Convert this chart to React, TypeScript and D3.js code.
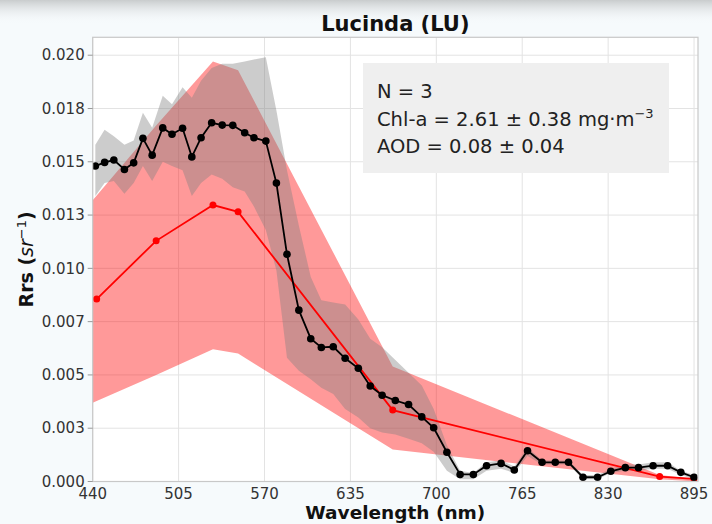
import React from "react";
import * as d3 from "d3";

// ---------- data ----------
const blackWl = [442, 449, 456, 464, 471, 478, 485, 493, 500, 508, 515, 522, 530, 538, 546, 555, 562, 571, 579, 587, 596, 605, 613, 622, 631, 641, 650, 659, 669, 679, 689, 698, 708, 718, 728, 738, 749, 759, 769, 780, 790, 800, 811, 822, 832, 843, 853, 864, 875, 885, 895];
const blackMean = [0.0148, 0.01497, 0.01508, 0.01464, 0.01495, 0.0161, 0.01531, 0.01659, 0.01629, 0.01657, 0.01523, 0.01613, 0.01683, 0.01672, 0.01671, 0.01636, 0.01613, 0.01597, 0.014, 0.01066, 0.00804, 0.0067, 0.00629, 0.00632, 0.00578, 0.00531, 0.00448, 0.00405, 0.0038, 0.00361, 0.00303, 0.00252, 0.00137, 0.00033, 0.00033, 0.00074, 0.00085, 0.00054, 0.00144, 0.0009, 0.0009, 0.0009, 0.0002, 0.0002, 0.00048, 0.00065, 0.00065, 0.00074, 0.00074, 0.00043, 0.0002];
const blackUpper = [0.0158, 0.0165, 0.0162, 0.0158, 0.016, 0.0173, 0.0166, 0.0181, 0.0177, 0.0185, 0.018, 0.0188, 0.0194, 0.0196, 0.0196, 0.0197, 0.0198, 0.0199, 0.0174, 0.0146, 0.012, 0.0096, 0.0085, 0.0084, 0.0083, 0.0076, 0.0067, 0.0063, 0.0057, 0.0051, 0.0045, 0.0034, 0.0017, 0.0005, 0.0004, 0.0009, 0.001, 0.0007, 0.0016, 0.001, 0.001, 0.001, 0.0003, 0.0003, 0.0006, 0.0008, 0.0008, 0.0009, 0.0009, 0.0005, 0.0003];
const blackLower = [0.0134, 0.014, 0.0141, 0.0135, 0.014, 0.0148, 0.0141, 0.015, 0.0148, 0.0146, 0.0134, 0.014, 0.0144, 0.0142, 0.0138, 0.0136, 0.0129, 0.0118, 0.0099, 0.0058, 0.0052, 0.0048, 0.0044, 0.0041, 0.0034, 0.003, 0.0025, 0.0023, 0.0022, 0.002, 0.0018, 0.0014, 0.0005, 0.0001, 0.0001, 0.0005, 0.0006, 0.0004, 0.0012, 0.0008, 0.0008, 0.0008, 0.0001, 0.0001, 0.0004, 0.0005, 0.0005, 0.0006, 0.0006, 0.0003, 0.0001];

const redWl = [443, 488, 531, 550, 667, 869, 895];
const redMean = [0.00856, 0.01129, 0.01297, 0.01265, 0.00335, 0.00023, 0.00012];
const redBandWl = [440, 488, 531, 550, 667, 869, 897];
const redUpper = [0.0132, 0.0167, 0.0197, 0.0193, 0.0054, 0.0003, 0.0001];
const redLower = [0.0037, 0.005, 0.0062, 0.006, 0.0015, 0.0001, 0.0];

const xTicks = [440, 505, 570, 635, 700, 765, 830, 895];
const yTicks = [0, 0.0025, 0.005, 0.0075, 0.01, 0.0125, 0.015, 0.0175, 0.02];
const yTickLabels = ["0.000", "0.003", "0.005", "0.007", "0.010", "0.013", "0.015", "0.018", "0.020"];

const W = 712, H = 524;
const L = 92.7, R = 698, T = 37.3, B = 481.5;

export default function App() {
  const x = d3.scaleLinear().domain([440, 898]).range([L, R]);
  const y = d3.scaleLinear().domain([0, 0.02084]).range([B, T]);

  const redBand = d3.area<number>()
    .x((_, i) => x(redBandWl[i]))
    .y0((_, i) => y(redLower[i]))
    .y1((_, i) => y(redUpper[i]))(redBandWl);
  const grayBand = d3.area<number>()
    .x((_, i) => x(blackWl[i]))
    .y0((_, i) => y(blackLower[i]))
    .y1((_, i) => y(blackUpper[i]))(blackWl);
  const redLine = d3.line<number>()
    .x((_, i) => x(redWl[i]))
    .y((_, i) => y(redMean[i]))(redWl);
  const blackLine = d3.line<number>()
    .x((_, i) => x(blackWl[i]))
    .y((_, i) => y(blackMean[i]))(blackWl);

  const tickFont = "'DejaVu Sans', sans-serif";
  return (
    <svg width={W} height={H} style={{ position: "absolute", left: 0, top: 0 }}>
      <defs>
        <linearGradient id="topfade" x1="0" y1="0" x2="0" y2="1">
          <stop offset="0" stopColor="#c9cccd" />
          <stop offset="1" stopColor="#f6fafc" stopOpacity="0" />
        </linearGradient>
        <clipPath id="plotclip">
          <rect x={L} y={T} width={R - L} height={B - T} />
        </clipPath>
      </defs>
      <rect x={0} y={0} width={W} height={H} fill="#f6fafc" />
      <rect x={0} y={0} width={W} height={24} fill="url(#topfade)" />
      <rect x={L} y={T} width={R - L} height={B - T} fill="#ffffff" />
      {/* grid */}
      {xTicks.map((t) => (
        <line key={"gx" + t} x1={x(t)} x2={x(t)} y1={T} y2={B} stroke="#e3e3e3" strokeWidth={1} />
      ))}
      {yTicks.map((t) => (
        <line key={"gy" + t} x1={L} x2={R} y1={y(t)} y2={y(t)} stroke="#e3e3e3" strokeWidth={1} />
      ))}
      <g clipPath="url(#plotclip)">
        <path d={redBand || ""} fill="red" fillOpacity={0.4} />
        <path d={grayBand || ""} fill="gray" fillOpacity={0.4} />
        <path d={redLine || ""} fill="none" stroke="#ff0000" strokeWidth={1.8} />
        {redWl.map((w, i) => (
          <circle key={"r" + i} cx={x(w)} cy={y(redMean[i])} r={3.5} fill="#ff0000" />
        ))}
        <path d={blackLine || ""} fill="none" stroke="#000" strokeWidth={1.8} />
        {blackWl.map((w, i) => (
          <circle key={"b" + i} cx={x(w)} cy={y(blackMean[i])} r={3.8} fill="#000" />
        ))}
      </g>
      {/* frame */}
      <rect x={L} y={T} width={R - L} height={B - T} fill="none" stroke="#c8c8c8" strokeWidth={1.2} />
      {/* ticks */}
      {yTicks.map((t, i) => (
        <g key={"yt" + t}>
          <line x1={L - 5} x2={L} y1={y(t)} y2={y(t)} stroke="#999" strokeWidth={1} />
          <text x={L - 8} y={y(t)} dy="0.35em" textAnchor="end" fontFamily={tickFont} fontSize={15} fill="#333">
            {yTickLabels[i]}
          </text>
        </g>
      ))}
      {xTicks.map((t) => (
        <text key={"xt" + t} x={x(t)} y={499} textAnchor="middle" fontFamily={tickFont} fontSize={15} fill="#333">
          {t}
        </text>
      ))}
      {/* title & labels */}
      <text x={(L + R) / 2} y={31} textAnchor="middle" fontFamily={tickFont} fontWeight="bold" fontSize={21} fill="#111">
        Lucinda (LU)
      </text>
      <text x={(L + R) / 2} y={519} textAnchor="middle" fontFamily={tickFont} fontWeight="bold" fontSize={18.5} fill="#111">
        Wavelength (nm)
      </text>
      <text transform={`translate(33,${(T + B) / 2}) rotate(-90)`} textAnchor="middle" fontFamily={tickFont} fontSize={19} fill="#111">
        <tspan fontWeight="bold">Rrs (</tspan>
        <tspan fontStyle="italic">sr</tspan>
        <tspan fontSize={13} dy={-7}>−1</tspan>
        <tspan dy={7} fontWeight="bold">)</tspan>
      </text>
      {/* annotation box */}
      <rect x={363} y={63} width={306} height={110} fill="#efefef" />
      <g fontFamily={tickFont} fontSize={19.5} fill="#222">
        <text x={377} y={98}>N = 3</text>
        <text x={377} y={126}>
          Chl-a = 2.61 ± 0.38 mg·m<tspan fontSize={13} dy={-8}>−3</tspan>
        </text>
        <text x={377} y={153}>AOD = 0.08 ± 0.04</text>
      </g>
    </svg>
  );
}
